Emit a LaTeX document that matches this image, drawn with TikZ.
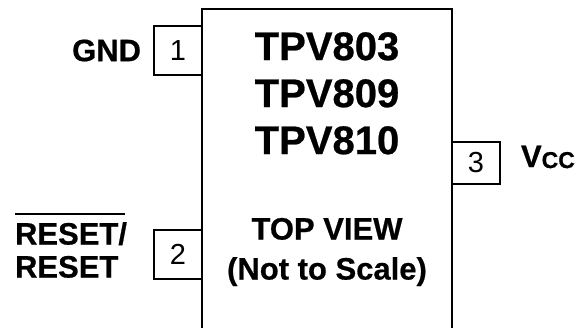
\documentclass[tikz,border=0pt]{standalone}
\usepackage{fontspec}
\setmainfont{Liberation Sans}[BoldFeatures={FakeBold=0.6}]
\usetikzlibrary{positioning}
\tikzstyle{chip}=[draw, line width=2pt, minimum width=250pt, minimum height=319.5pt, inner sep=0, anchor=north]
\tikzstyle{pinbox}=[draw, line width=1.6pt, minimum width=48pt, inner sep=0, font=\fontsize{29}{29}\selectfont]
\tikzstyle{pinlbl}=[inner sep=0, font=\bfseries\fontsize{31}{33}\selectfont]
\tikzstyle{partno}=[inner sep=0, align=center, font=\bfseries\fontsize{40}{47}\selectfont]
\tikzstyle{view}=[inner sep=0, align=center, font=\bfseries\fontsize{31}{40}\selectfont]
\newcommand{\nbar}[1]{\setbox0=\hbox{#1}\rlap{\rule[0.95em]{\dimexpr\wd0-2pt\relax}{2pt}}\box0}

\begin{document}
\begin{tikzpicture}[x=1pt,y=1pt]
    \useasboundingbox (0,0) rectangle (584,327);
    % package body
    \node[chip] (body) at (327,319) {};
    \node[partno, below=24pt of body.north] (parts) {TPV803\\TPV809\\TPV810};
    \node[view, below=63pt of parts] (topview) {TOP VIEW\\(Not to Scale)};
    % pins
    \node[pinbox, minimum height=49pt] (p1) at (178,276.5) {1};
    \node[pinbox, minimum height=49pt] (p2) at (178,72.5) {2};
    \node[pinbox, minimum height=42pt] (p3) at (476,164) {3};
    \node[pinlbl, left=12pt of p1] (gnd) {GND};
    \node[pinlbl, align=left, left=26pt of p2, yshift=9pt] (rst) {\nbar{RESET/}\\RESET};
    \node[pinlbl, right=20pt of p3, yshift=6pt] (vcc) {V\raisebox{-1pt}{\fontsize{23}{23}\selectfont CC}};
\end{tikzpicture}
\end{document}
